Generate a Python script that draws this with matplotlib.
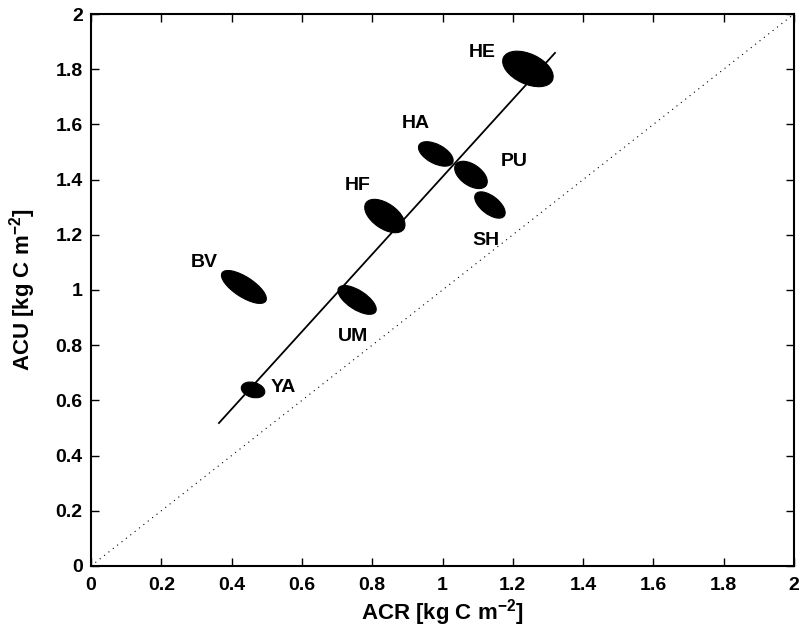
import matplotlib
matplotlib.use("Agg")
import matplotlib.pyplot as plt
from matplotlib.collections import EllipseCollection
import numpy as np

plt.rcParams['font.family'] = ['Liberation Sans', 'DejaVu Sans']
plt.rcParams['font.weight'] = 'bold'
plt.rcParams['mathtext.fontset'] = 'custom'
plt.rcParams['mathtext.rm'] = 'Liberation Sans:bold'
plt.rcParams['mathtext.bf'] = 'Liberation Sans:bold'
plt.rcParams['mathtext.default'] = 'bf'

# Site cluster centres (ACR, ACU)
sites = ['HE', 'HA', 'PU', 'SH', 'HF', 'BV', 'UM', 'YA']
acr = [1.243, 0.981, 1.081, 1.135, 0.836, 0.435, 0.757, 0.461]
acu = [1.801, 1.493, 1.417, 1.308, 1.268, 1.011, 0.964, 0.638]

# Label positions
label_x = [1.112, 0.925, 1.203, 1.124, 0.760, 0.321, 0.745, 0.546]
label_y = [1.862, 1.605, 1.467, 1.181, 1.380, 1.101, 0.833, 0.645]

# Regression line endpoints
fit_x = [0.364, 1.320]
fit_y = [0.518, 1.859]

# 1:1 line
one_x = [0, 2]
one_y = [0, 2]

ticks = [0, 0.2, 0.4, 0.6, 0.8, 1, 1.2, 1.4, 1.6, 1.8, 2]
tick_labels = ['0', '0.2', '0.4', '0.6', '0.8', '1', '1.2', '1.4', '1.6', '1.8', '2']

# cloud shapes (pixels)
cloud_w = [54, 38, 37, 36, 46, 52, 44, 24]
cloud_h = [30, 19, 21, 18, 25, 20, 19, 15]
cloud_a = [-25, -28, -35, -38, -35, -33, -33, -15]

fig = plt.figure(figsize=(8, 6.37), dpi=100)
ax = fig.add_axes([0.11375, 0.1115, 0.87875, 0.8665])

ax.plot(one_x, one_y, color='black', linestyle=(0, (1, 4)), linewidth=0.8)
ax.plot(fit_x, fit_y, color='black', linewidth=1.3)

ec = EllipseCollection(cloud_w, cloud_h, cloud_a, units='dots',
                       offsets=np.column_stack([acr, acu]),
                       offset_transform=ax.transData,
                       facecolors='black', edgecolors='black', linewidths=0.8)
ax.add_collection(ec)

for s, lx, ly in zip(sites, label_x, label_y):
    ax.text(lx, ly, s, ha='center', va='center', fontsize=14, fontweight='bold')

ax.set_xlim(0, 2)
ax.set_ylim(0, 2)
ax.set_xticks(ticks)
ax.set_xticklabels(tick_labels)
ax.set_yticks(ticks)
ax.set_yticklabels(tick_labels)
ax.tick_params(direction='in', top=True, right=True, length=6, width=1,
               labelsize=14)
ax.tick_params(axis='x', pad=8)
ax.tick_params(axis='y', pad=6)
for lab in ax.get_xticklabels() + ax.get_yticklabels():
    lab.set_fontweight('bold')
for sp in ax.spines.values():
    sp.set_linewidth(1.5)

ax.set_xlabel(r'ACR [kg C m$^{-2}$]', fontsize=16, fontweight='bold')
ax.set_ylabel(r'ACU [kg C m$^{-2}$]', fontsize=16, fontweight='bold')
ax.xaxis.set_label_coords(0.5, -0.056)
ax.yaxis.set_label_coords(-0.0754, 0.5)

fig.savefig('out.png', dpi=100)
